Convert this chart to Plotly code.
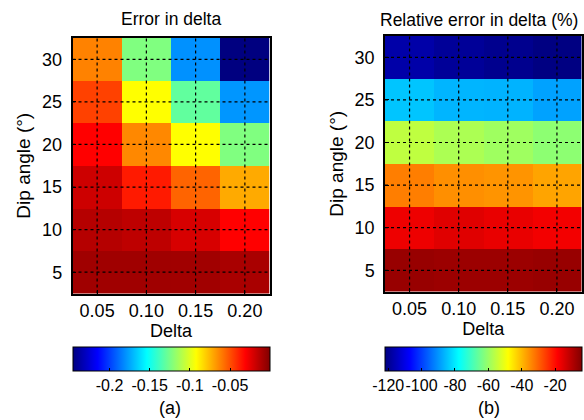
import plotly.graph_objects as go

# ---- data ----
delta = [0.05, 0.10, 0.15, 0.20]
dip = [5, 10, 15, 20, 25, 30]

# Error in delta (rows: dip 5 -> 30, cols: delta 0.05 -> 0.20)
err_delta = [
    [-0.0088, -0.0088, -0.0090, -0.0108],
    [-0.0137, -0.0159, -0.0220, -0.0316],
    [-0.0196, -0.0378, -0.0556, -0.0725],
    [-0.0316, -0.0642, -0.0929, -0.1235],
    [-0.0473, -0.0929, -0.1309, -0.1794],
    [-0.0629, -0.1235, -0.1806, -0.2460],
]
# Relative error in delta (%)
rel_err = [
    [-7.0, -7.5, -7.5, -7.0],
    [-17.0, -15.3, -16.4, -17.6],
    [-33.5, -35.5, -36.1, -37.9],
    [-55.8, -58.0, -59.5, -61.6],
    [-84.7, -86.5, -86.7, -88.7],
    [-117.6, -119.4, -120.6, -122.0],
]
err_range = [-0.246, -0.001]
rel_range = [-122.2, -4.2]

x_ticks = [0.05, 0.10, 0.15, 0.20]
x_ticktext = ["0.05", "0.10", "0.15", "0.20"]
y_ticks = [5, 10, 15, 20, 25, 30]
cb1_ticks = [-0.2, -0.15, -0.1, -0.05]
cb1_text = ["-0.2", "-0.15", "-0.1", "-0.05"]
cb2_ticks = [-120, -100, -80, -60, -40, -20]
cb2_text = ["-120", "-100", "-80", "-60", "-40", "-20"]

jet = [
    [0.0, "rgb(0,0,128)"],
    [0.125, "rgb(0,0,255)"],
    [0.375, "rgb(0,255,255)"],
    [0.625, "rgb(255,255,0)"],
    [0.875, "rgb(255,0,0)"],
    [1.0, "rgb(128,0,0)"],
]

W, H = 584, 420
FONT = "Liberation Sans, Arial, sans-serif"


def px_x(v):
    return v / W


def px_y(v):
    return 1 - v / H


fig = go.Figure()

cb_common = dict(
    orientation="h",
    thickness=24, thicknessmode="pixels",
    len=197, lenmode="pixels",
    xanchor="center", yanchor="top",
    y=px_y(347),
    outlinewidth=1, outlinecolor="black",
    ticks="inside", ticklen=3, tickcolor="black",
    tickangle=0,
    tickfont=dict(family=FONT, size=16, color="black"),
    xpad=0, ypad=0,
)

fig.add_trace(go.Heatmap(
    x=delta, y=dip, z=err_delta, colorscale=jet,
    zmin=err_range[0], zmax=err_range[1],
    xaxis="x", yaxis="y",
    colorbar=dict(cb_common, x=px_x(171), tickvals=cb1_ticks, ticktext=cb1_text),
))
fig.add_trace(go.Heatmap(
    x=delta, y=dip, z=rel_err, colorscale=jet,
    zmin=rel_range[0], zmax=rel_range[1],
    xaxis="x2", yaxis="y2",
    colorbar=dict(cb_common, x=px_x(483), tickvals=cb2_ticks, ticktext=cb2_text),
))

axis_common = dict(
    showline=True, mirror=True, linecolor="black", linewidth=1.5,
    ticks="inside", ticklen=4, tickcolor="black",
    showgrid=False, zeroline=False,
    tickfont=dict(family=FONT, size=18, color="black"),
)

fig.update_layout(
    width=W, height=H,
    margin=dict(l=0, r=0, t=0, b=0),
    paper_bgcolor="white", plot_bgcolor="white",
    font=dict(family=FONT, color="black"),
    xaxis=dict(axis_common, domain=[px_x(72.5), px_x(269.5)], anchor="y",
               range=[0.025, 0.225], tickvals=x_ticks, ticktext=x_ticktext,
               ticklabelstandoff=0,
               title=dict(text="Delta", font=dict(size=18), standoff=0)),
    yaxis=dict(axis_common, domain=[px_y(293.5), px_y(38)], anchor="x",
               range=[2.5, 32.5], tickvals=y_ticks, ticklabelstandoff=5,
               title=dict(text="Dip angle (°)", font=dict(size=19), standoff=6)),
    xaxis2=dict(axis_common, domain=[px_x(385), px_x(581.5)], anchor="y2",
                range=[0.025, 0.225], tickvals=x_ticks, ticktext=x_ticktext,
                ticklabelstandoff=0,
                title=dict(text="Delta", font=dict(size=18), standoff=0)),
    yaxis2=dict(axis_common, domain=[px_y(291.6), px_y(36)], anchor="x2",
                range=[2.5, 32.5], tickvals=y_ticks, ticklabelstandoff=5,
                title=dict(text="Dip angle (°)", font=dict(size=19), standoff=6)),
)

# dashed grid lines above the heatmaps
shapes = []
for xa, ya in (("x", "y"), ("x2", "y2")):
    for v in x_ticks:
        shapes.append(dict(type="line", xref=xa, yref=f"{ya} domain",
                           x0=v, x1=v, y0=0, y1=1, layer="above",
                           line=dict(color="black", width=1.2, dash="3px,3px")))
    for v in y_ticks:
        shapes.append(dict(type="line", xref=f"{xa} domain", yref=ya,
                           x0=0, x1=1, y0=v, y1=v, layer="above",
                           line=dict(color="black", width=1.2, dash="3px,3px")))
fig.update_layout(shapes=shapes)

annotations = [
    dict(text="Error in delta", x=px_x(171), y=px_y(19), xref="paper", yref="paper",
         showarrow=False, font=dict(size=17.5, family=FONT), xanchor="center", yanchor="middle"),
    dict(text="Relative error in delta (%)", x=px_x(479), y=px_y(20), xref="paper", yref="paper",
         showarrow=False, font=dict(size=17.5, family=FONT), xanchor="center", yanchor="middle"),
    dict(text="(a)", x=px_x(170), y=px_y(408), xref="paper", yref="paper",
         showarrow=False, font=dict(size=18, family=FONT), xanchor="center", yanchor="middle"),
    dict(text="(b)", x=px_x(489), y=px_y(408), xref="paper", yref="paper",
         showarrow=False, font=dict(size=18, family=FONT), xanchor="center", yanchor="middle"),
]
fig.update_layout(annotations=annotations)

fig.write_html("out.html")
